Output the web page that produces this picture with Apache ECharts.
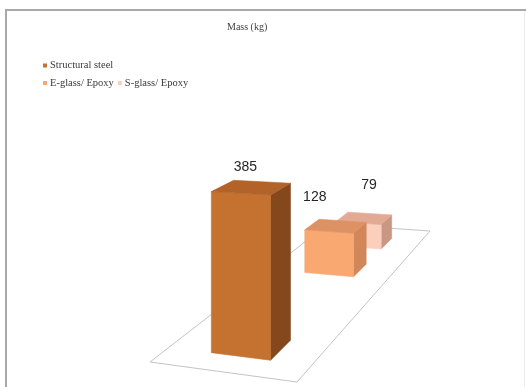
<!DOCTYPE html>
<html>
<head>
<meta charset="utf-8">
<script src="https://cdn.jsdelivr.net/npm/echarts@6/dist/echarts.min.js"></script>
<style>
  html, body { margin: 0; padding: 0; background: #ffffff; }
  #chart { width: 526px; height: 387px; }
</style>
</head>
<body>
<div id="chart"></div>
<script>
// ---- chart data ----
const chartTitle = 'Mass (kg)';
const materials = ['Structural steel', 'E-glass/ Epoxy', 'S-glass/ Epoxy'];
const massKg = [385, 128, 79];

// ---- 3D look: floor quad in screen space, bars placed on it ----
const FLOOR_QUAD = [[150, 362], [297, 382], [430, 231], [328, 224]]; // front-left, front-right, back-right, back-left
const BAR_U = [0.31, 0.725];      // across the floor
const ROW_FRONT0 = 0.073;         // front of the first depth row
const ROW_SQUEEZE = 0.46;         // rows crowd together towards the back
const BAR_DEPTH = 0.1;

const faceColors = [
  { front: '#c5712f', side: '#85481c', top: '#b1632a' },
  { front: '#f9a872', side: '#d2875a', top: '#dd9264' },
  { front: '#fbcfbc', side: '#c99784', top: '#e2aa95' }
];
const labelOffsets = [[-6, -20], [-21, -29], [5, -33]];

// square -> quad projective mapping (returns x, y and the perspective divisor)
function squareToQuad(q) {
  const [x0, y0] = q[0], [x1, y1] = q[1], [x2, y2] = q[2], [x3, y3] = q[3];
  const dx1 = x1 - x2, dy1 = y1 - y2, dx2 = x3 - x2, dy2 = y3 - y2;
  const dx3 = x0 - x1 + x2 - x3, dy3 = y0 - y1 + y2 - y3;
  const den = dx1 * dy2 - dx2 * dy1;
  const g = (dx3 * dy2 - dx2 * dy3) / den;
  const h = (dx1 * dy3 - dx3 * dy1) / den;
  const a = x1 - x0 + g * x1, b = x3 - x0 + h * x3, c = x0;
  const d = y1 - y0 + g * y1, e = y3 - y0 + h * y3, f = y0;
  return function (u, w) {
    const s = g * u + h * w + 1;
    return [(a * u + b * w + c) / s, (d * u + e * w + f) / s, s];
  };
}
const floorMap = squareToQuad(FLOOR_QUAD);

function rowFront(k) {
  return 1 - (1 - ROW_FRONT0) * Math.pow(ROW_SQUEEZE, k);
}

function project(u, w, zPx) {
  const p = floorMap(u, w);
  return [p[0], p[1] - zPx / p[2]];
}

function renderBox(params, api) {
  const k = api.value(0);
  const v = api.value(1);
  const hPx = api.size([0, v])[1];
  const wf = rowFront(k), wb = wf + BAR_DEPTH;
  const [u0, u1] = BAR_U;
  const col = faceColors[params.seriesIndex];
  const poly = (pts, fill) => ({
    type: 'polygon',
    shape: { points: pts },
    style: { fill: fill, stroke: fill, lineWidth: 0.6 }
  });
  const front = [project(u0, wf, 0), project(u1, wf, 0), project(u1, wf, hPx), project(u0, wf, hPx)];
  const side = [project(u1, wf, 0), project(u1, wb, 0), project(u1, wb, hPx), project(u1, wf, hPx)];
  const top = [project(u0, wf, hPx), project(u1, wf, hPx), project(u1, wb, hPx), project(u0, wb, hPx)];
  const c = project((u0 + u1) / 2, (wf + wb) / 2, hPx);
  const off = labelOffsets[params.seriesIndex];
  return {
    type: 'group',
    children: [
      poly(side, col.side),
      poly(front, col.front),
      poly(top, col.top),
      {
        type: 'text',
        x: c[0] + off[0],
        y: c[1] + off[1],
        style: {
          text: String(v),
          fill: '#262626',
          font: '14px "Liberation Sans", Arial, sans-serif',
          textAlign: 'center', textVerticalAlign: 'middle',
          align: 'center', verticalAlign: 'middle'
        }
      }
    ]
  };
}

const floorPts = [floorMap(0, 0), floorMap(1, 0), floorMap(1, 1), floorMap(0, 1)].map(p => [p[0], p[1]]);

const serif = '"Liberation Serif", "Times New Roman", serif';
const legendBase = {
  orient: 'horizontal',
  icon: 'rect',
  itemWidth: 4,
  itemHeight: 4,
  itemGap: 4,
  selectedMode: false,
  textStyle: { fontSize: 10.5, fontFamily: serif, color: '#3a3a3a', padding: [0, 0, 0, -2] }
};

const option = {
  animation: false,
  backgroundColor: '#ffffff',
  title: {
    text: chartTitle,
    left: 222,
    top: 17,
    textStyle: { fontSize: 10, fontWeight: 'normal', fontFamily: serif, color: '#404040' }
  },
  legend: [
    Object.assign({}, legendBase, { data: [materials[0]], left: 38, top: 55 }),
    Object.assign({}, legendBase, { data: [materials[1], materials[2]], left: 38, top: 72.5 })
  ],
  grid: { left: 0, right: 0, top: 100, height: 170.5 },
  xAxis: { type: 'category', data: materials, show: false },
  yAxis: { type: 'value', min: 0, max: 400, show: false },
  graphic: [
    { type: 'polygon', z: -1, shape: { points: floorPts },
      style: { fill: '#ffffff', stroke: '#c4c4c4', lineWidth: 1 } },
    { type: 'line', shape: { x1: 5, y1: 10, x2: 526, y2: 10 }, style: { stroke: '#a9a9a9', lineWidth: 2 } },
    { type: 'line', shape: { x1: 6, y1: 9, x2: 6, y2: 387 }, style: { stroke: '#a9a9a9', lineWidth: 2 } },
    { type: 'line', shape: { x1: 524.5, y1: 11, x2: 524.5, y2: 387 }, style: { stroke: '#ececec', lineWidth: 1 } }
  ],
  series: materials.map((name, k) => ({
    type: 'custom',
    name: name,
    z: 10 - k,
    itemStyle: { color: faceColors[k].front },
    renderItem: renderBox,
    data: [[k, massKg[k]]]
  }))
};

const chart = echarts.init(document.getElementById('chart'), null, { renderer: 'canvas' });
chart.setOption(option);
</script>
</body>
</html>
